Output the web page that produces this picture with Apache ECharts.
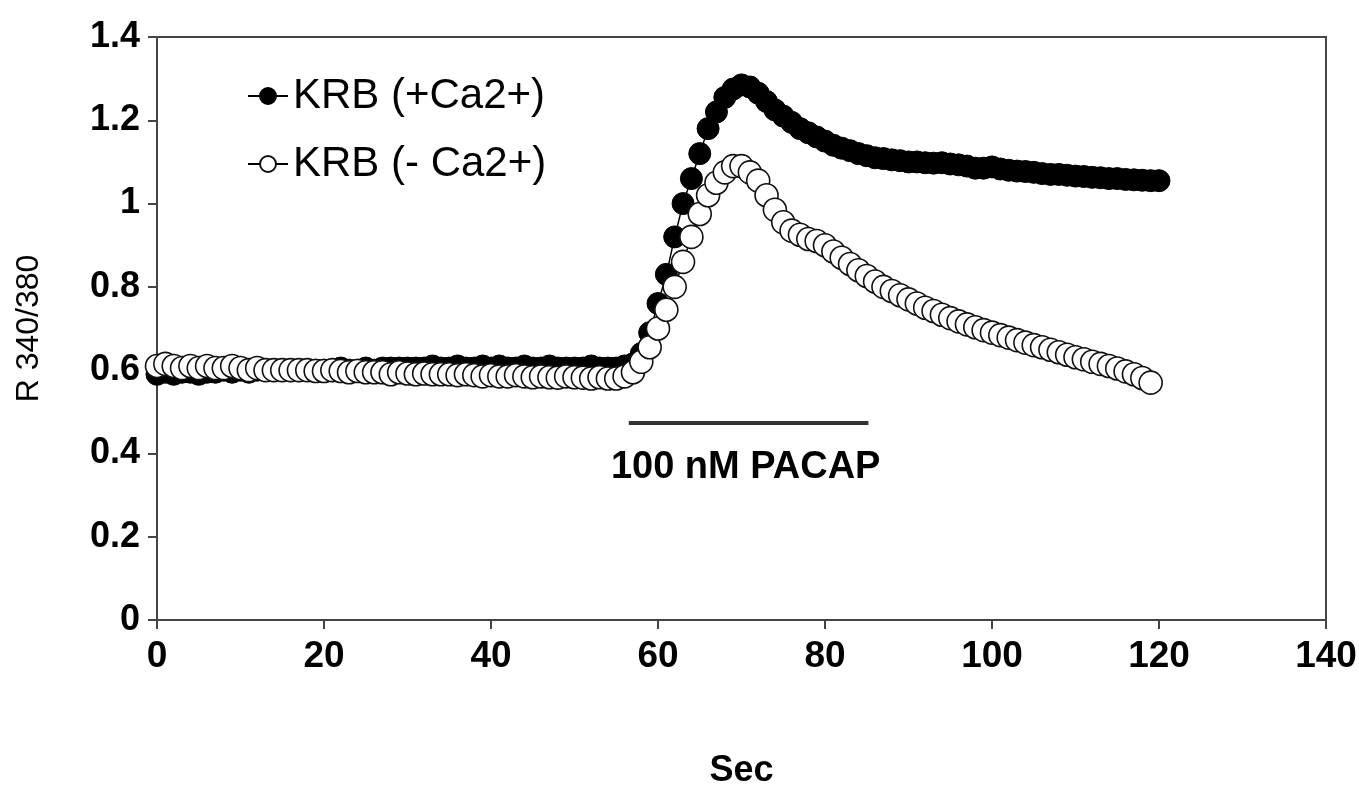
<!DOCTYPE html>
<html>
<head>
<meta charset="utf-8">
<script src="https://cdn.jsdelivr.net/npm/echarts@6/dist/echarts.min.js"></script>
<style>
html,body{margin:0;padding:0;background:#fff;}
#chart{width:1359px;height:787px;}
</style>
</head>
<body>
<div id="chart"></div>
<script>
// Sampling: one reading per second, starting at 0 s
const sampleStep = 1;
// KRB (+Ca2+) ratio R 340/380, t = 0..120 s
const withCa = [
  0.59,0.595,0.59,0.595,0.595,0.59,0.595,0.595,0.6,0.595,
  0.6,0.595,0.6,0.6,0.6,0.6,0.6,0.6,0.6,0.6,
  0.6,0.6,0.605,0.6,0.6,0.605,0.6,0.605,0.605,0.605,
  0.605,0.605,0.605,0.61,0.605,0.605,0.61,0.605,0.605,0.61,
  0.605,0.61,0.605,0.605,0.61,0.605,0.605,0.61,0.605,0.605,
  0.605,0.605,0.61,0.605,0.605,0.605,0.61,
  0.615,0.64,0.69,0.76,0.83,0.92,1.0,1.06,1.12,1.18,1.22,1.255,1.275,1.285,
  1.28,1.265,1.245,1.225,1.21,1.195,1.18,1.17,1.16,1.15,
  1.14,1.133,1.127,1.12,1.115,1.11,1.108,1.105,1.103,1.1,
  1.1,1.098,1.097,1.098,1.095,1.093,1.09,1.085,1.085,1.088,
  1.083,1.08,1.078,1.077,1.075,1.072,1.07,1.07,1.068,1.066,
  1.065,1.063,1.062,1.06,1.06,1.058,1.057,1.056,1.055,1.055
];
// KRB (- Ca2+) ratio R 340/380, t = 0..119 s
const withoutCa = [
  0.61,0.615,0.61,0.605,0.61,0.605,0.61,0.605,0.605,0.61,
  0.605,0.6,0.605,0.6,0.6,0.6,0.6,0.6,0.6,0.598,
  0.598,0.6,0.598,0.595,0.598,0.595,0.595,0.595,0.59,0.595,
  0.592,0.59,0.592,0.59,0.59,0.59,0.588,0.59,0.588,0.585,
  0.588,0.585,0.585,0.588,0.585,0.583,0.585,0.583,0.582,0.585,
  0.583,0.582,0.58,0.583,0.58,0.58,0.585,
  0.595,0.62,0.655,0.70,0.745,0.80,0.86,0.92,0.975,1.02,1.05,1.075,1.09,1.09,
  1.075,1.055,1.02,0.985,0.955,0.935,0.925,0.915,0.91,0.9,
  0.885,0.87,0.855,0.84,0.826,0.813,0.8,0.79,0.78,0.77,
  0.76,0.75,0.742,0.733,0.725,0.717,0.71,0.703,0.696,0.69,
  0.684,0.678,0.672,0.666,0.66,0.655,0.649,0.643,0.637,0.631,
  0.626,0.62,0.615,0.61,0.604,0.597,0.59,0.581,0.57
];
// PACAP application bar (start s, end s) and its level
const pacapSpan = [56.5, 85.2];
const pacapLevel = 0.473;
const pacapLabel = '100 nM PACAP';
const pacapLabelPos = [70.5, 0.367];
const seriesNames = ['KRB (+Ca2+)', 'KRB (- Ca2+)'];
const xTicks = {min: 0, max: 140, interval: 20};
const yTicks = {min: 0, max: 1.4, interval: 0.2};

const toPairs = arr => arr.map((v, i) => [i * sampleStep, v]);
const FONT = '"Liberation Sans", Arial, Helvetica, sans-serif';

const chart = echarts.init(document.getElementById('chart'), null, {renderer: 'canvas'});
chart.setOption({
  backgroundColor: '#ffffff',
  animation: false,
  grid: {left: 157, right: 33, top: 37, bottom: 167, show: true, borderColor: '#444', borderWidth: 2,
    backgroundColor: 'transparent', containLabel: false, outerBoundsMode: 'none'},
  legend: {
    orient: 'vertical', left: 242, top: 70, itemGap: 26,
    itemWidth: 40, itemHeight: 20,
    textStyle: {fontFamily: FONT, fontSize: 42, color: '#000'},
    data: seriesNames
  },
  xAxis: {
    type: 'value', min: xTicks.min, max: xTicks.max, interval: xTicks.interval,
    name: 'Sec', nameLocation: 'middle', nameGap: 133,
    nameTextStyle: {fontFamily: FONT, fontSize: 36, fontWeight: 'bold', color: '#000'},
    axisLine: {lineStyle: {color: '#444', width: 2}},
    axisTick: {show: true, inside: false, length: 9, lineStyle: {color: '#444', width: 2}},
    axisLabel: {fontFamily: FONT, fontSize: 37, fontWeight: 'bold', color: '#000', margin: 18},
    splitLine: {show: false}
  },
  yAxis: {
    type: 'value', min: yTicks.min, max: yTicks.max, interval: yTicks.interval,
    name: 'R 340/380', nameLocation: 'middle', nameGap: 112, nameRotate: 90,
    nameTextStyle: {fontFamily: FONT, fontSize: 32, color: '#000'},
    axisLine: {show: true, lineStyle: {color: '#444', width: 2}},
    axisTick: {show: true, inside: false, length: 9, lineStyle: {color: '#444', width: 2}},
    axisLabel: {fontFamily: FONT, fontSize: 36, fontWeight: 'bold', color: '#000', margin: 17},
    splitLine: {show: false}
  },
  series: [
    {
      name: seriesNames[0], type: 'line', data: toPairs(withCa),
      symbol: 'circle', symbolSize: 22, showAllSymbol: true,
      lineStyle: {color: '#000', width: 1.5},
      itemStyle: {color: '#000', borderColor: '#000', borderWidth: 1},
      z: 2
    },
    {
      name: seriesNames[1], type: 'line', data: toPairs(withoutCa),
      symbol: 'circle', symbolSize: 23, showAllSymbol: true,
      lineStyle: {color: '#000', width: 1.5},
      itemStyle: {color: '#fff', borderColor: '#111', borderWidth: 1.6},
      z: 3
    },
    {
      name: 'pacap', type: 'line',
      data: [[pacapSpan[0], pacapLevel], [pacapSpan[1], pacapLevel]],
      symbol: 'none', lineStyle: {color: '#333', width: 4}, silent: true, z: 1
    },
    {
      name: 'pacapLabel', type: 'scatter', data: [pacapLabelPos],
      symbolSize: 1, silent: true, itemStyle: {opacity: 1, color: 'transparent'},
      label: {show: true, position: 'inside', formatter: pacapLabel, opacity: 1,
        fontFamily: FONT, fontSize: 38, fontWeight: 'bold', color: '#000'}
    }
  ]
});
</script>
</body>
</html>
